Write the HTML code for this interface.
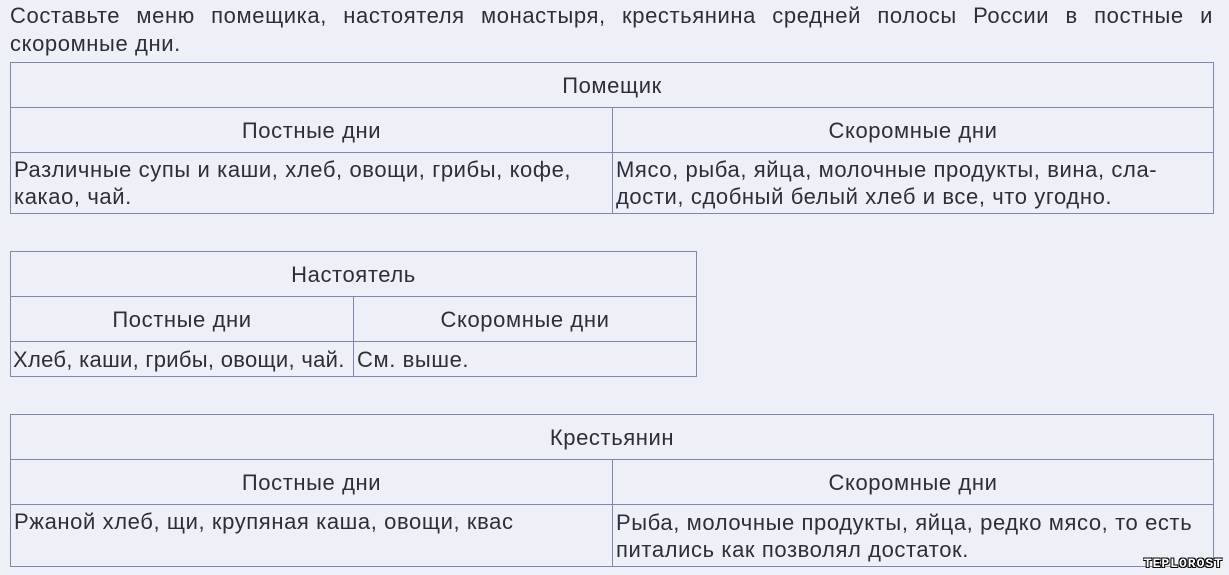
<!DOCTYPE html>
<html><head><meta charset="utf-8"><style>
body{margin:0;width:1229px;height:575px;background:#eef0f7;font-family:"Liberation Sans",Arial,sans-serif;color:#2e2e38;position:relative;overflow:hidden}
.t{position:absolute;left:10px;top:2px;width:1203px;font-size:22px;letter-spacing:0.6px;line-height:28px;text-align:justify;text-align-last:left}
table{position:absolute;border-collapse:collapse;font-size:22px;letter-spacing:0.6px;line-height:27px;table-layout:fixed}
td{border:1px solid #7f87ad;padding:0 3px;vertical-align:middle;white-space:nowrap}
.c{text-align:center;padding-top:0}
.wm{position:absolute;right:6px;bottom:4px;font:bold 13px "Liberation Mono",monospace;color:#fff;letter-spacing:1px;text-shadow:1px 1px 0 #000,-1px -1px 0 #000,1px -1px 0 #000,-1px 1px 0 #000}
</style></head><body>
<div class="t">Составьте меню помещика, настоятеля монастыря, крестьянина средней полосы России в постные и скоромные дни.</div>
<table style="left:10px;top:62px;width:1204px">
<colgroup><col style="width:602px"><col></colgroup>
<tr style="height:45px"><td class="c" colspan="2">Помещик</td></tr>
<tr style="height:45px"><td class="c">Постные дни</td><td class="c">Скоромные дни</td></tr>
<tr style="height:61px"><td>Различные супы и каши, хлеб, овощи, грибы, кофе,<br>какао, чай.</td><td>Мясо, рыба, яйца, молочные продукты, вина, сла-<br>дости, сдобный белый хлеб и все, что угодно.</td></tr>
</table>
<table style="left:10px;top:251px;width:687px">
<colgroup><col style="width:343px"><col></colgroup>
<tr style="height:45px"><td class="c" colspan="2">Настоятель</td></tr>
<tr style="height:45px"><td class="c">Постные дни</td><td class="c">Скоромные дни</td></tr>
<tr style="height:35px"><td style="padding:0 2px;letter-spacing:0.3px">Хлеб, каши, грибы, овощи, чай.</td><td>См. выше.</td></tr>
</table>
<table style="left:10px;top:414px;width:1204px">
<colgroup><col style="width:602px"><col></colgroup>
<tr style="height:45px"><td class="c" colspan="2">Крестьянин</td></tr>
<tr style="height:45px"><td class="c">Постные дни</td><td class="c">Скоромные дни</td></tr>
<tr style="height:62px"><td style="vertical-align:top;padding-top:3px">Ржаной хлеб, щи, крупяная каша, овощи, квас</td><td>Рыба, молочные продукты, яйца, редко мясо, то есть<br>питались как позволял достаток.</td></tr>
</table>
<div class="wm">TEPLOROST</div>
</body></html>
